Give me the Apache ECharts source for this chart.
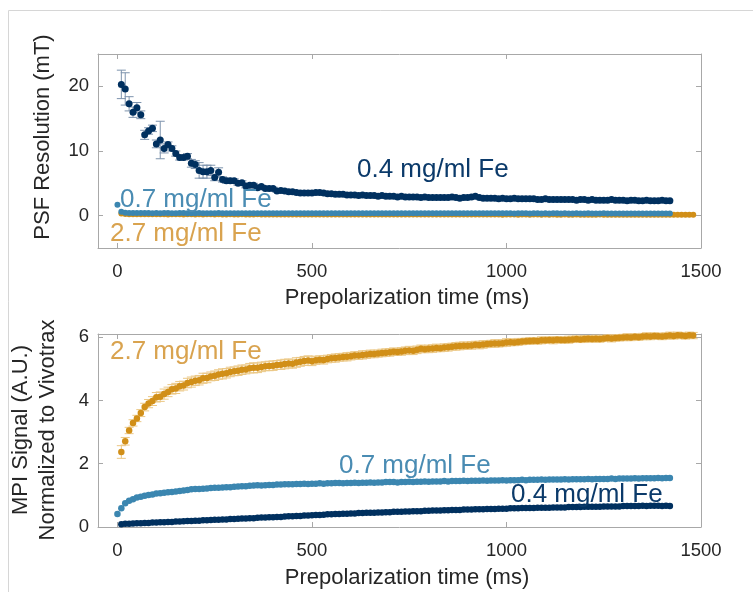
<!DOCTYPE html>
<html>
<head>
<meta charset="utf-8">
<script src="https://cdn.jsdelivr.net/npm/echarts@6/dist/echarts.min.js"></script>
<style>html,body{margin:0;padding:0;background:#fff;}#chart{width:753px;height:592px;}</style>
</head>
<body>
<div id="chart"></div>
<script>
// ---- data ----
const STEP = 10; // sampling interval (ms)
const xTicks = [0, 500, 1000, 1500];
const psfTicks = [0, 10, 20];
const mpiTicks = [0, 2, 4, 6];
const labels = ['0.4 mg/ml Fe', '0.7 mg/ml Fe', '2.7 mg/ml Fe'];

// Top panel: PSF resolution (mT)
const psfStart04 = 10;
const psf04 = [
20.3,19.6,17.3,16.0,16.7,15.6,12.5,13.1,13.5,11.1,
11.7,10.4,11.0,10.4,9.6,9.0,9.0,9.2,8.1,7.9,
7.0,6.8,6.8,7.0,5.9,6.7,5.6,5.4,5.4,5.4,
5.0,5.1,4.6,4.7,4.7,4.3,4.5,4.2,4.2,4.2,
3.8,3.9,3.8,3.7,3.7,3.6,3.5,3.5,3.5,3.5,
3.6,3.6,3.5,3.4,3.4,3.3,3.3,3.3,3.2,3.2,
3.2,3.1,3.2,3.1,3.1,3.1,3.0,3.1,3.0,3.0,
3.0,2.9,3.0,2.9,2.9,2.9,2.9,2.8,2.9,2.8,
2.8,2.8,2.8,2.8,2.8,2.9,2.8,2.7,2.8,2.8,
2.9,3.0,2.8,2.7,2.7,2.7,2.7,2.6,2.7,2.6,
2.6,2.7,2.6,2.6,2.6,2.6,2.6,2.5,2.5,2.6,
2.5,2.5,2.5,2.5,2.5,2.5,2.5,2.4,2.5,2.5,
2.4,2.5,2.4,2.4,2.4,2.4,2.5,2.4,2.4,2.4,
2.3,2.4,2.4,2.3,2.3,2.4,2.3,2.3,2.3,2.4,
2.3,2.3];
const psfErr04 = [
2.2,2.5,1.1,0.8,0.8,0.6,0.7,0.5,0.5,0.6,
2.9,0.7,0.4,0.4,0.4,0.4,0.4,0.4,0.6,0.6,
1.2,1.0,1.0,0.8,0.5,0.7,0.4,0.4,0.3,0.3,
0.3,0.3,0.3,0.3,0.3,0.3,0.2,0.2,0.2,0.2,
0.2,0.2,0.2,0.2,0.2,0.2,0.2,0.2,0.2,0.2,
0.2,0.2,0.2,0.2,0.2,0.2,0.2,0.2,0.2,0.2];
const psfStart07 = 0;
const psf07 = [
1.7,0.6,0.45,0.42,0.4,0.4,0.41,0.4,0.4,0.39,
0.4,0.39,0.4,0.4,0.38,0.39,0.4,0.4,0.39,0.38,
0.39,0.4,0.39,0.38,0.39,0.39,0.4,0.38,0.39,0.39,
0.38,0.39,0.39,0.38,0.39,0.38,0.38,0.39,0.38,0.39,
0.38,0.38,0.39,0.38,0.38,0.39,0.38,0.38,0.37,0.38,
0.38,0.37,0.38,0.38,0.38,0.37,0.38,0.37,0.38,0.38,
0.37,0.38,0.37,0.37,0.38,0.37,0.37,0.38,0.37,0.37,
0.37,0.38,0.37,0.37,0.37,0.36,0.37,0.37,0.37,0.36,
0.37,0.37,0.36,0.37,0.37,0.36,0.37,0.36,0.37,0.36,
0.36,0.37,0.36,0.36,0.37,0.36,0.36,0.36,0.37,0.36,
0.36,0.36,0.35,0.36,0.36,0.36,0.35,0.36,0.36,0.35,
0.36,0.35,0.36,0.36,0.35,0.36,0.35,0.35,0.36,0.35,
0.35,0.36,0.35,0.35,0.35,0.36,0.35,0.35,0.35,0.35,
0.35,0.35,0.34,0.35,0.35,0.35,0.34,0.35,0.35,0.34,
0.35,0.34,0.35];
const psfStart27 = 10;
const psf27 = [
0.35,0.25,0.22,0.21,0.2,0.2,0.21,0.2,0.2,0.2,
0.2,0.2,0.19,0.2,0.2,0.2,0.19,0.2,0.2,0.19,
0.2,0.19,0.2,0.2,0.19,0.2,0.19,0.19,0.2,0.19,
0.19,0.2,0.19,0.19,0.19,0.2,0.19,0.19,0.19,0.19,
0.19,0.19,0.18,0.19,0.19,0.19,0.18,0.19,0.19,0.18,
0.19,0.18,0.19,0.18,0.18,0.19,0.18,0.18,0.19,0.18,
0.18,0.18,0.18,0.19,0.18,0.18,0.18,0.18,0.17,0.18,
0.18,0.18,0.17,0.18,0.18,0.17,0.18,0.18,0.17,0.18,
0.17,0.18,0.17,0.17,0.18,0.17,0.17,0.18,0.17,0.17,
0.17,0.17,0.17,0.18,0.17,0.17,0.17,0.17,0.16,0.17,
0.17,0.17,0.16,0.17,0.17,0.16,0.17,0.17,0.16,0.17,
0.16,0.17,0.16,0.16,0.17,0.16,0.16,0.17,0.16,0.16,
0.16,0.16,0.16,0.17,0.16,0.16,0.16,0.16,0.15,0.16,
0.16,0.16,0.15,0.16,0.16,0.15,0.16,0.16,0.15,0.16,
0.16,0.15,0.16,0.15,0.16,0.16,0.15,0.16];

// Bottom panel: MPI signal normalized to Vivotrax (A.U.)
const mpiStart27 = 10;
const mpi27 = [
2.37,2.71,3.05,3.29,3.43,3.60,3.79,3.90,3.98,4.10,
4.12,4.20,4.27,4.35,4.38,4.45,4.47,4.55,4.58,4.62,
4.64,4.70,4.71,4.76,4.78,4.82,4.84,4.86,4.90,4.92,
4.94,4.97,4.98,5.02,5.03,5.03,5.06,5.08,5.09,5.10,
5.12,5.13,5.15,5.17,5.16,5.20,5.22,5.25,5.26,5.24,
5.27,5.29,5.28,5.31,5.33,5.34,5.36,5.37,5.38,5.40,
5.42,5.42,5.44,5.45,5.47,5.47,5.48,5.50,5.51,5.52,
5.54,5.53,5.55,5.57,5.58,5.57,5.60,5.63,5.62,5.63,
5.64,5.66,5.65,5.67,5.68,5.70,5.71,5.72,5.73,5.73,
5.74,5.76,5.75,5.77,5.78,5.79,5.80,5.80,5.81,5.83,
5.84,5.83,5.85,5.86,5.87,5.88,5.89,5.88,5.90,5.90,
5.91,5.90,5.92,5.91,5.91,5.92,5.93,5.94,5.93,5.94,
5.95,5.94,5.95,5.94,5.96,5.97,5.96,5.97,5.98,5.99,
6.00,5.99,6.01,6.00,6.02,6.03,6.02,6.04,6.03,6.02,
6.04,6.05,6.04,6.06,6.05,6.04,6.06,6.05];
const mpiErr27 = [
0.20,0.12,0.10,0.10,0.10,0.11,0.12,0.13,0.14,0.15,
0.15,0.16,0.15,0.15,0.16,0.15,0.14,0.15,0.16,0.15,
0.15,0.16,0.15,0.14,0.15,0.15,0.16,0.15,0.15,0.14,
0.15,0.15,0.14,0.15,0.16,0.15,0.15,0.14,0.15,0.15,
0.14,0.15,0.15,0.14,0.14,0.15,0.14,0.14,0.15,0.14,
0.13,0.12,0.13,0.12,0.12,0.13,0.12,0.12,0.13,0.12,
0.12,0.12,0.13,0.12,0.12,0.12,0.11,0.12,0.12,0.12,
0.12,0.11,0.12,0.12,0.13,0.12,0.12,0.12,0.11,0.12,
0.12,0.12,0.11,0.12,0.12,0.11,0.12,0.12,0.12,0.11,
0.12,0.11,0.12,0.12,0.11,0.11,0.12,0.11,0.11,0.12,
0.11,0.10,0.11,0.10,0.10,0.11,0.10,0.10,0.11,0.10,
0.10,0.11,0.10,0.10,0.10,0.11,0.10,0.10,0.10,0.11,
0.10,0.10,0.11,0.10,0.10,0.10,0.11,0.10,0.10,0.10,
0.11,0.10,0.10,0.10,0.10,0.11,0.10,0.10,0.10,0.10,
0.10,0.11,0.10,0.10,0.10,0.10,0.10,0.10];
const mpiStart07 = 0;
const mpi07 = [
0.41,0.59,0.75,0.83,0.88,0.93,0.96,0.99,1.01,1.03,
1.06,1.07,1.08,1.10,1.11,1.12,1.14,1.15,1.17,1.19,
1.20,1.20,1.21,1.22,1.23,1.24,1.24,1.25,1.26,1.26,
1.27,1.28,1.29,1.29,1.30,1.31,1.32,1.31,1.32,1.33,
1.33,1.34,1.34,1.35,1.35,1.35,1.36,1.36,1.37,1.36,
1.37,1.37,1.38,1.37,1.38,1.38,1.39,1.39,1.38,1.39,
1.39,1.40,1.39,1.40,1.40,1.41,1.40,1.41,1.41,1.42,
1.42,1.42,1.41,1.42,1.42,1.43,1.42,1.43,1.43,1.44,
1.43,1.44,1.44,1.44,1.45,1.44,1.45,1.45,1.45,1.46,
1.45,1.46,1.46,1.46,1.47,1.46,1.47,1.47,1.47,1.48,
1.47,1.48,1.48,1.48,1.49,1.48,1.49,1.49,1.49,1.50,
1.49,1.50,1.50,1.50,1.50,1.51,1.50,1.51,1.51,1.51,
1.51,1.52,1.51,1.52,1.52,1.52,1.52,1.53,1.52,1.53,
1.53,1.53,1.53,1.54,1.53,1.54,1.54,1.54,1.54,1.55,
1.54,1.55,1.55];
const mpiStart04 = 10;
const mpi04 = [
0.09,0.10,0.10,0.11,0.12,0.12,0.13,0.13,0.14,0.14,
0.15,0.15,0.16,0.16,0.17,0.17,0.18,0.19,0.19,0.20,
0.20,0.21,0.21,0.22,0.23,0.23,0.24,0.24,0.25,0.25,
0.26,0.27,0.27,0.28,0.28,0.29,0.30,0.30,0.31,0.31,
0.32,0.32,0.33,0.34,0.34,0.35,0.35,0.36,0.36,0.37,
0.38,0.38,0.39,0.40,0.40,0.41,0.41,0.42,0.42,0.43,
0.43,0.44,0.44,0.45,0.45,0.45,0.46,0.46,0.47,0.47,
0.48,0.48,0.48,0.49,0.49,0.50,0.50,0.50,0.51,0.51,
0.52,0.52,0.52,0.53,0.53,0.54,0.54,0.54,0.55,0.55,
0.55,0.56,0.56,0.56,0.57,0.57,0.57,0.58,0.58,0.58,
0.59,0.59,0.59,0.60,0.60,0.60,0.60,0.61,0.61,0.61,
0.61,0.62,0.62,0.62,0.62,0.63,0.63,0.63,0.63,0.64,
0.64,0.64,0.64,0.64,0.65,0.65,0.65,0.65,0.65,0.66,
0.66,0.66,0.66,0.66,0.67,0.66,0.67,0.67,0.67,0.66,
0.67,0.66];

// ---- styling ----
const FONT = '"Liberation Sans", Arial, Helvetica, sans-serif';
const C04 = '#00305f', C07 = '#3b86b0', C27 = '#d18f18';
const T04 = '#0b3a6a', T07 = '#4a8cb3', T27 = '#d9a34f';
const E04 = '#7d93ad', E27 = '#ebc784';
const AX = '#a8a8a8', TXT = '#262626';

function pts(start, vals) { return vals.map((v, i) => [start + i * STEP, v]); }
function errPts(start, vals, errs) { return errs.map((e, i) => [start + i * STEP, vals[i] - e, vals[i] + e]); }

function errSeries(xi, yi, data, color) {
  return {
    type: 'custom', xAxisIndex: xi, yAxisIndex: yi, data: data, z: 2,
    encode: { x: 0, y: [1, 2] }, silent: true,
    renderItem: function (params, api) {
      const x = api.value(0), lo = api.value(1), hi = api.value(2);
      const a = api.coord([x, lo]), b = api.coord([x, hi]);
      const w = 4.5;
      const st = { stroke: color, lineWidth: 1, fill: null };
      return { type: 'group', children: [
        { type: 'line', shape: { x1: a[0], y1: a[1], x2: b[0], y2: b[1] }, style: st },
        { type: 'line', shape: { x1: a[0] - w, y1: a[1], x2: a[0] + w, y2: a[1] }, style: st },
        { type: 'line', shape: { x1: b[0] - w, y1: b[1], x2: b[0] + w, y2: b[1] }, style: st }
      ]};
    }
  };
}
function sc(xi, yi, data, color, size) {
  return { type: 'scatter', xAxisIndex: xi, yAxisIndex: yi, data: data, symbol: 'circle',
    symbolSize: size, itemStyle: { color: color, opacity: 1 }, z: 3, silent: true, animation: false };
}

function xAx(grid, pos, showLabel) {
  return {
    type: 'value', gridIndex: grid, position: pos, min: -50, max: 1500,
    axisLine: { show: true, onZero: false, lineStyle: { color: AX, width: 1 } },
    axisTick: { show: true, inside: true, length: 5, customValues: xTicks, lineStyle: { color: AX } },
    axisLabel: { show: showLabel, customValues: xTicks, fontSize: 18.5, color: TXT, fontFamily: FONT, margin: 14,
      formatter: function (v) { return String(v); } },
    splitLine: { show: false }
  };
}
function yAx(grid, pos, showLabel, min, max, ticks) {
  return {
    type: 'value', gridIndex: grid, position: pos, min: min, max: max,
    axisLine: { show: true, onZero: false, lineStyle: { color: AX, width: 1 } },
    axisTick: { show: true, inside: true, length: 5, customValues: ticks, lineStyle: { color: AX } },
    axisLabel: { show: showLabel, customValues: ticks, fontSize: 18.5, color: TXT, fontFamily: FONT, margin: 9,
      formatter: function (v) { return String(v); } },
    splitLine: { show: false }
  };
}
function txt(x, y, s, color, size, rot) {
  return { type: 'text', x: x, y: y, rotation: rot || 0, z: 10, silent: true,
    style: { text: s, fill: color, font: size + 'px ' + FONT, align: rot ? 'center' : 'left', verticalAlign: 'middle' } };
}
function title(x, y, s, rot) {
  return { type: 'text', x: x, y: y, rotation: rot || 0, z: 10, silent: true,
    style: { text: s, fill: TXT, font: '22px ' + FONT, align: 'center', verticalAlign: 'middle' } };
}

const chart = echarts.init(document.getElementById('chart'), null, { renderer: 'canvas' });
chart.setOption({
  animation: false,
  backgroundColor: '#fff',
  grid: [
    { left: 98, top: 54, width: 603, height: 194 },
    { left: 98, top: 334, width: 603, height: 193 }
  ],
  xAxis: [ xAx(0, 'bottom', true), xAx(0, 'top', false), xAx(1, 'bottom', true), xAx(1, 'top', false) ],
  yAxis: [
    yAx(0, 'left', true, -5, 25, psfTicks), yAx(0, 'right', false, -5, 25, psfTicks),
    yAx(1, 'left', true, 0, 6.1, mpiTicks), yAx(1, 'right', false, 0, 6.1, mpiTicks)
  ],
  series: [
    sc(0, 0, pts(psfStart27, psf27), C27, 6),
    sc(0, 0, pts(psfStart07, psf07), C07, 6),
    errSeries(0, 0, errPts(psfStart04, psf04, psfErr04), E04),
    sc(0, 0, pts(psfStart04, psf04), C04, 7),
    errSeries(2, 2, errPts(mpiStart27, mpi27, mpiErr27), E27),
    sc(2, 2, pts(mpiStart27, mpi27), C27, 6.5),
    sc(2, 2, pts(mpiStart07, mpi07), C07, 6.5),
    sc(2, 2, pts(mpiStart04, mpi04), C04, 6.5)
  ],
  graphic: [
    { type: 'polyline', silent: true, shape: { points: [[8.5, 592], [8.5, 10.5], [753, 10.5]] },
      style: { stroke: '#d6d6d6', lineWidth: 1, fill: null } },
    txt(357, 170, labels[0], T04, 26),
    txt(120, 200, labels[1], T07, 26),
    txt(110, 234, labels[2], T27, 26),
    txt(110, 352, labels[2], T27, 26),
    txt(339, 466, labels[1], T07, 26),
    txt(511, 495, labels[0], T04, 26),
    title(407, 298, 'Prepolarization time (ms)'),
    title(407, 578, 'Prepolarization time (ms)'),
    title(43, 137, 'PSF Resolution (mT)', Math.PI / 2),
    title(21, 430, 'MPI Signal (A.U.)', Math.PI / 2),
    title(48, 430, 'Normalized to Vivotrax', Math.PI / 2)
  ]
});
</script>
</body>
</html>
